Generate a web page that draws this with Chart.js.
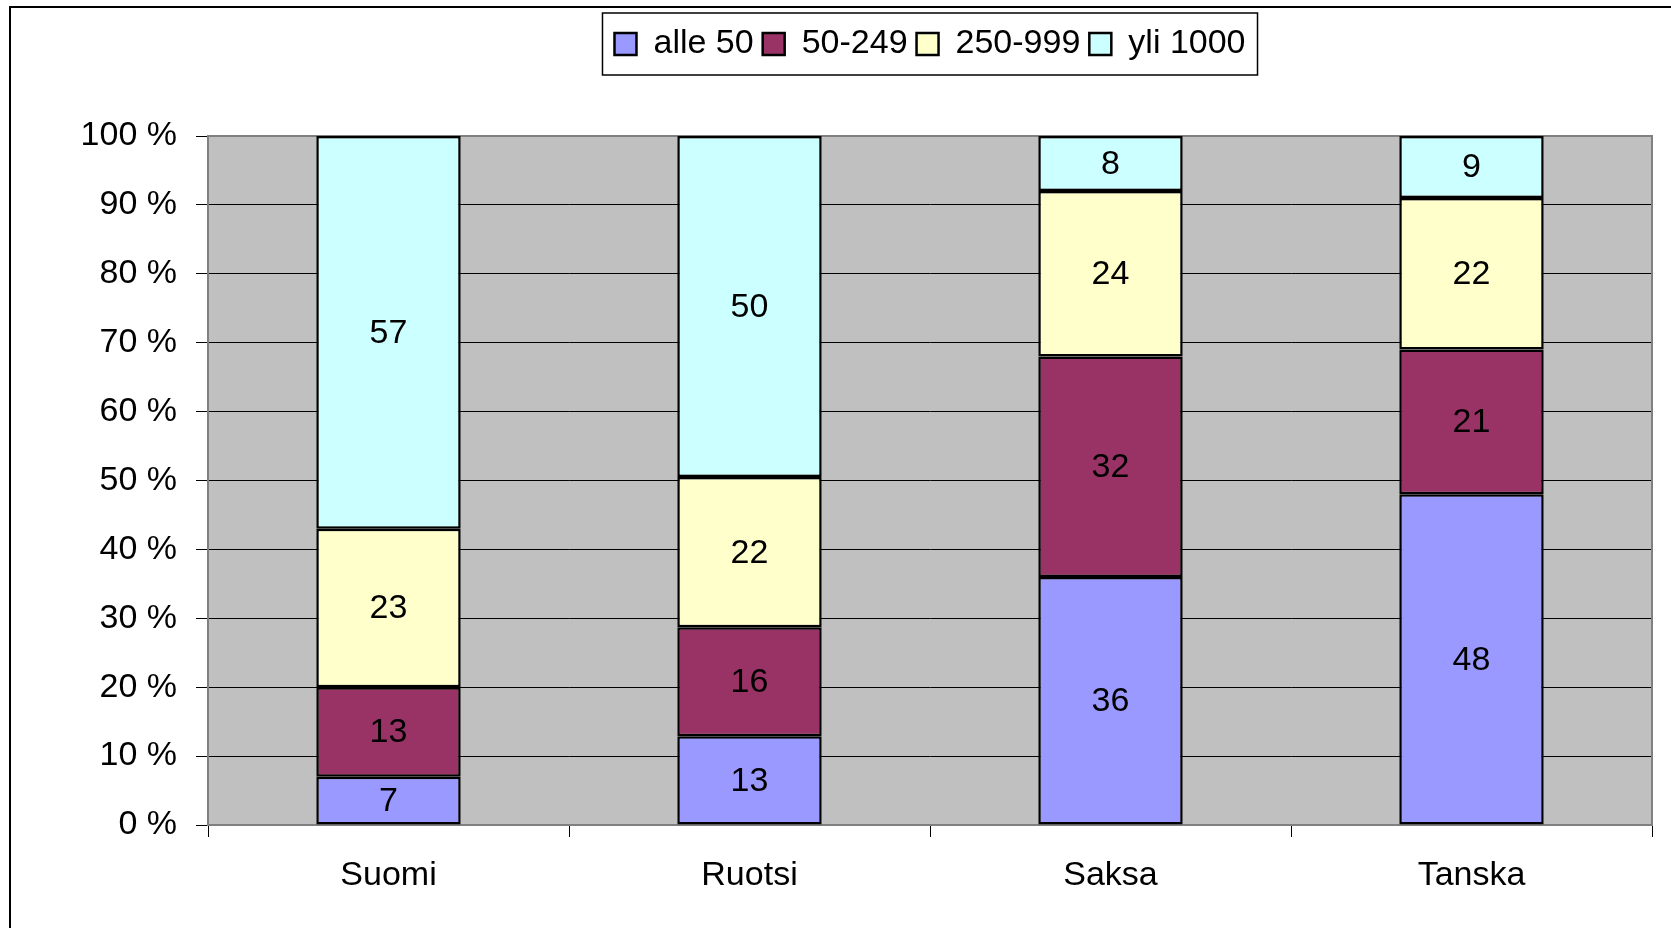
<!DOCTYPE html>
<html>
<head>
<meta charset="utf-8">
<script src="https://cdn.jsdelivr.net/npm/chart.js@4"></script>
<style>
  html, body { margin: 0; padding: 0; background: #fff; }
  #wrap { width: 1671px; height: 928px; }
</style>
</head>
<body>
<div id="wrap"><canvas id="chartKoko" width="1671" height="928"></canvas></div>
<script>
const categories = ['Suomi', 'Ruotsi', 'Saksa', 'Tanska'];
const seriesNames = ['alle 50', '50-249', '250-999', 'yli 1000'];
const alle50 = [7, 13, 36, 48];
const v50_249 = [13, 16, 32, 21];
const v250_999 = [23, 22, 24, 22];
const yli1000 = [57, 50, 8, 9];
const yTicks = [0, 10, 20, 30, 40, 50, 60, 70, 80, 90, 100];

const colors = ['#9999ff', '#993366', '#ffffcc', '#ccffff'];
const series = [alle50, v50_249, v250_999, yli1000];
const FONT = '"Liberation Sans", Arial, sans-serif';

// 100 % pinottu: osuus sarakkeen summasta
const totals = categories.map((c, i) => series.reduce((s, arr) => s + arr[i], 0));

const datasets = series.map((arr, k) => ({
    label: seriesNames[k],
    data: arr.map((v, i) => v / totals[i] * 100),
    raw: arr,
    backgroundColor: colors[k],
    borderColor: '#000',
    borderWidth: 2.5,
    borderSkipped: false,
    categoryPercentage: 1,
    barPercentage: 0.4
}));

const frame = {
    id: 'frame',
    beforeInit(chart){
        const fit = chart.legend.fit;
        chart.legend.fit = function(){
            fit.bind(chart.legend)();
            this.height += 65;
        };
    },
    beforeDraw(chart){
        const {ctx, chartArea: a} = chart;
        ctx.save();
        ctx.fillStyle = '#c0c0c0';
        ctx.fillRect(a.left, a.top, a.right - a.left, a.bottom - a.top);
        ctx.strokeStyle = '#000';
        ctx.lineWidth = 2;
        ctx.beginPath();
        ctx.moveTo(10, chart.height);
        ctx.lineTo(10, 7);
        ctx.lineTo(chart.width, 7);
        ctx.stroke();
        ctx.restore();
    },
    beforeDatasetsDraw(chart){
        const {ctx, chartArea: a} = chart;
        ctx.save();
        ctx.strokeStyle = '#808080';
        ctx.lineWidth = 2;
        ctx.strokeRect(a.left, a.top, a.right - a.left, a.bottom - a.top);
        ctx.restore();
    },
    afterDatasetsDraw(chart){
        const ctx = chart.ctx;
        ctx.save();
        ctx.font = '34px ' + FONT;
        ctx.fillStyle = '#000';
        ctx.textAlign = 'center';
        ctx.textBaseline = 'middle';
        chart.data.datasets.forEach((ds, k) => {
            chart.getDatasetMeta(k).data.forEach((bar, i) => {
                const p = bar.getProps(['x', 'y', 'base'], true);
                ctx.fillText(String(ds.raw[i]), p.x, (p.y + p.base) / 2 + 1);
            });
        });
        ctx.restore();
    },
    afterDraw(chart){
        const boxes = chart.legend.legendHitBoxes;
        if(!boxes || !boxes.length) return;
        const first = boxes[0], last = boxes[boxes.length - 1];
        const ctx = chart.ctx;
        ctx.save();
        ctx.strokeStyle = '#000';
        ctx.lineWidth = 1.5;
        const cy = first.top + first.height / 2;
        ctx.strokeRect(first.left - 12, cy - 31, last.left + last.width - first.left + 24, 62);
        ctx.restore();
    }
};

new Chart(document.getElementById('chartKoko').getContext('2d'), {
    type: 'bar',
    data: { labels: categories, datasets: datasets },
    options: {
        responsive: false,
        animation: false,
        layout: { padding: { top: 18, right: 19, left: 0, bottom: 0 } },
        plugins: {
            legend: {
                position: 'top',
                fullSize: false,
                labels: {
                    font: { family: FONT, size: 34 },
                    color: '#000',
                    boxWidth: 22,
                    boxHeight: 22,
                    padding: 9
                }
            },
            tooltip: { enabled: false }
        },
        scales: {
            x: {
                stacked: true,
                afterFit(scale){ scale.height = 103; },
                grid: {
                    offset: true,
                    drawOnChartArea: false,
                    drawTicks: true,
                    tickLength: 12,
                    tickColor: '#000'
                },
                border: { color: '#808080', width: 2 },
                ticks: {
                    font: { family: FONT, size: 34 },
                    color: '#000',
                    padding: 18
                }
            },
            y: {
                stacked: true,
                min: 0,
                max: 100,
                afterFit(scale){ scale.width = 208; },
                afterBuildTicks(scale){ scale.ticks = yTicks.map(v => ({ value: v })); },
                grid: {
                    color: '#000',
                    lineWidth: 1,
                    tickLength: 12,
                    tickColor: '#000'
                },
                border: { color: '#808080', width: 2 },
                ticks: {
                    font: { family: FONT, size: 34 },
                    color: '#000',
                    padding: 19,
                    callback: v => v + ' %'
                }
            }
        }
    },
    plugins: [frame]
});
</script>
</body>
</html>
